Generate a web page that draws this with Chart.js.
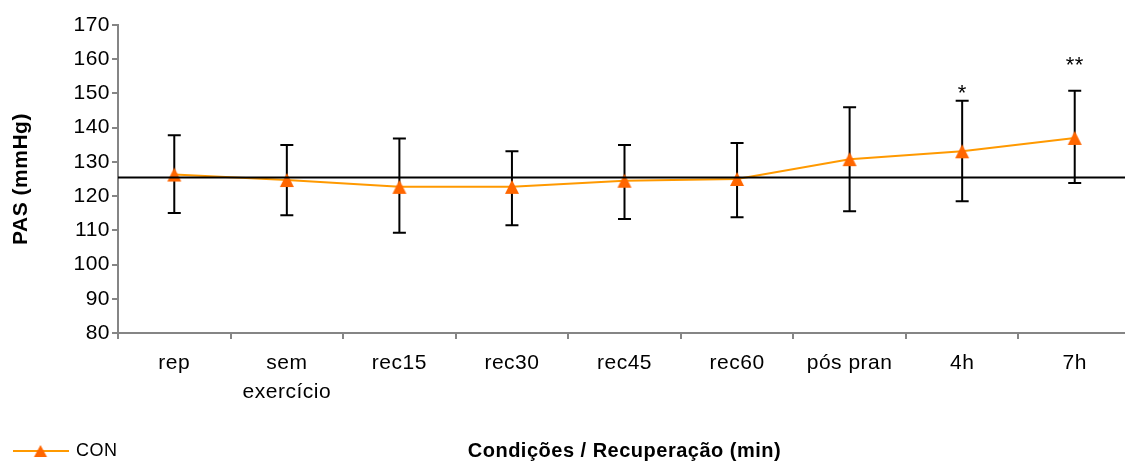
<!DOCTYPE html>
<html>
<head>
<meta charset="utf-8">
<script src="https://cdn.jsdelivr.net/npm/chart.js@4.4.1/dist/chart.umd.min.js"></script>
<style>
  html, body { margin: 0; padding: 0; background: #fff; overflow: hidden; width: 1125px; height: 462px; }
  #wrap { width: 1140px; height: 462px; }
</style>
</head>
<body>
<div id="wrap"><canvas id="c" width="1140" height="462"></canvas></div>
<script>
// Systolic pressure (PAS) per condition, control session
const categories = ['rep', ['sem', 'exercício'], 'rec15', 'rec30', 'rec45', 'rec60', 'pós pran', '4h', '7h'];
const meanCON  = [126.3, 124.7, 122.7, 122.7, 124.5, 125.0, 130.8, 133.1, 137.0];
const upperCON = [137.8, 134.9, 136.8, 133.1, 134.9, 135.5, 146.0, 147.9, 150.8];
const lowerCON = [115.1, 114.4, 109.3, 111.5, 113.3, 113.8, 115.6, 118.5, 123.8];
const significance = ['', '', '', '', '', '', '', '*', '**'];
const restingLine = 125.5;
const yRange = { min: 80, max: 170, step: 10 };

const FONT = "'Liberation Sans', Arial, Helvetica, sans-serif";
const LINE_COLOR = '#FF9900';
const MARKER_COLOR = '#FF6600';
const AXIS_COLOR = '#858585';

// filled triangle marker, centred on its bounding box
function triangleMarker() {
  const c = document.createElement('canvas');
  c.width = 16; c.height = 16;
  const g = c.getContext('2d');
  g.fillStyle = MARKER_COLOR;
  g.beginPath(); g.moveTo(8, 1); g.lineTo(15, 15); g.lineTo(1, 15); g.closePath(); g.fill();
  return c;
}

// small line + triangle glyph used as the legend symbol
function legendGlyph() {
  const c = document.createElement('canvas');
  c.width = 56; c.height = 14;
  const g = c.getContext('2d');
  g.strokeStyle = LINE_COLOR; g.lineWidth = 2;
  g.beginPath(); g.moveTo(0, 7); g.lineTo(56, 7); g.stroke();
  g.fillStyle = MARKER_COLOR;
  g.beginPath(); g.moveTo(28, 1); g.lineTo(34.5, 13); g.lineTo(21.5, 13); g.closePath(); g.fill();
  return c;
}

// slightly wider text spacing for every label on the canvas
const letterSpacing = {
  id: 'letterSpacing',
  beforeLayout(chart) { chart.ctx.letterSpacing = '0.5px'; },
  beforeDraw(chart) { chart.ctx.letterSpacing = '0.5px'; }
};

// vertical error bars with caps, behind the series
const errorBars = {
  id: 'errorBars',
  beforeDatasetsDraw(chart, args, opts) {
    const { ctx, scales: { x, y } } = chart;
    ctx.save();
    ctx.strokeStyle = opts.color;
    ctx.lineWidth = opts.width;
    upperCON.forEach((hi, i) => {
      const px = x.getPixelForValue(i);
      const yt = y.getPixelForValue(hi);
      const yb = y.getPixelForValue(lowerCON[i]);
      ctx.beginPath();
      ctx.moveTo(px, yt); ctx.lineTo(px, yb);
      ctx.moveTo(px - opts.cap, yt); ctx.lineTo(px + opts.cap, yt);
      ctx.moveTo(px - opts.cap, yb); ctx.lineTo(px + opts.cap, yb);
      ctx.stroke();
    });
    ctx.restore();
  }
};

// resting reference line and significance marks
const overlays = {
  id: 'overlays',
  afterDatasetsDraw(chart, args, opts) {
    const { ctx, chartArea, scales: { x, y } } = chart;
    ctx.save();
    const ly = Math.round(y.getPixelForValue(restingLine)) + 0.5;
    ctx.strokeStyle = '#000';
    ctx.lineWidth = 2;
    ctx.beginPath();
    ctx.moveTo(chartArea.left, ly);
    ctx.lineTo(chartArea.right, ly);
    ctx.stroke();

    ctx.fillStyle = '#000';
    ctx.font = '22px ' + FONT;
    ctx.textAlign = 'center';
    ctx.textBaseline = 'alphabetic';
    significance.forEach((s, i) => {
      if (!s) return;
      const px = x.getPixelForValue(i);
      const py = y.getPixelForValue(upperCON[i]) - opts.lift[s.length - 1];
      ctx.fillText(s, px, py);
    });
    ctx.restore();
  }
};

const glyph = legendGlyph();
const marker = triangleMarker();

new Chart(document.getElementById('c'), {
  type: 'line',
  data: {
    labels: categories,
    datasets: [{
      label: 'CON',
      data: meanCON,
      borderColor: LINE_COLOR,
      borderWidth: 2,
      tension: 0,
      pointStyle: marker,
      pointRadius: 7,
      pointBackgroundColor: MARKER_COLOR,
      pointBorderColor: MARKER_COLOR,
      clip: false
    }]
  },
  options: {
    responsive: false,
    animation: false,
    devicePixelRatio: 1,
    layout: { padding: { left: 12, top: 25, right: 0, bottom: -8 } },
    plugins: {
      tooltip: { enabled: false },
      errorBars: { color: '#000', width: 2, cap: 6.5 },
      overlays: { lift: [1, 19] },
      legend: {
        position: 'bottom',
        align: 'start',
        labels: {
          usePointStyle: true,
          pointStyleWidth: 53,
          padding: 2,
          color: '#000',
          font: { family: FONT, size: 18 },
          generateLabels(chart) {
            const ds = chart.data.datasets[0];
            return [{ text: ds.label, pointStyle: glyph, fillStyle: MARKER_COLOR,
                      strokeStyle: MARKER_COLOR, lineWidth: 0, hidden: false, datasetIndex: 0 }];
          }
        }
      }
    },
    scales: {
      x: {
        offset: true,
        grid: { offset: true, drawOnChartArea: false, drawTicks: true, tickLength: 6,
                color: AXIS_COLOR, lineWidth: 2 },
        border: { display: true, color: AXIS_COLOR, width: 2 },
        ticks: { color: '#000', padding: 10, maxRotation: 0, autoSkip: false,
                 font: { family: FONT, size: 21, lineHeight: 1.38 } },
        title: {
          display: true,
          text: 'Condições / Recuperação (min)',
          color: '#000',
          font: { family: FONT, size: 20, weight: 'bold' },
          padding: { top: 0, bottom: -23 }
        },
        afterFit(scale) { scale.height = 107; }
      },
      y: {
        min: yRange.min,
        max: yRange.max,
        grid: { drawOnChartArea: false, drawTicks: true, tickLength: 6,
                color: AXIS_COLOR, lineWidth: 2 },
        border: { display: true, color: AXIS_COLOR, width: 2 },
        ticks: { stepSize: yRange.step, color: '#000', padding: 2,
                 font: { family: FONT, size: 21 } },
        title: {
          display: true,
          text: 'PAS (mmHg)',
          color: '#000',
          font: { family: FONT, size: 21, weight: 'bold' },
          padding: { top: -3, bottom: 0 }
        },
        afterFit(scale) { scale.width = 106; }
      }
    }
  },
  plugins: [letterSpacing, errorBars, overlays]
});
</script>
</body>
</html>
